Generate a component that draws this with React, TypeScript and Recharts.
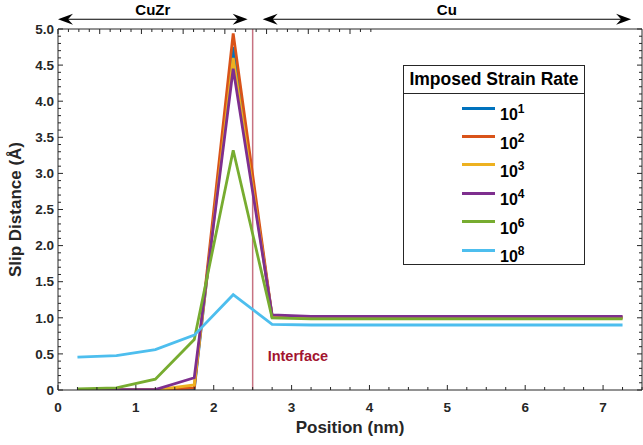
import { LineChart, Line, XAxis, YAxis, ReferenceLine, Legend } from "recharts";

// sample positions (nm), bins centred every 0.5 nm
const positions = [0.25, 0.75, 1.25, 1.75, 2.25, 2.75, 3.25, 3.75, 4.25, 4.75, 5.25, 5.75, 6.25, 6.75, 7.25];

// slip distance (Å) per imposed strain rate
const rate1 = [0, 0, 0, 0.01, 4.75, 1.01, 1.0, 1.0, 1.0, 1.0, 1.0, 1.0, 1.0, 1.0, 1.0];
const rate2 = [0, 0, 0, 0.03, 4.94, 1.02, 1.01, 1.01, 1.01, 1.01, 1.01, 1.01, 1.01, 1.01, 1.01];
const rate3 = [0, 0, 0, 0.07, 4.6, 1.02, 1.0, 1.0, 1.0, 1.0, 1.0, 1.0, 1.0, 1.0, 1.0];
const rate4 = [0, 0.005, 0.005, 0.17, 4.45, 1.04, 1.02, 1.02, 1.02, 1.02, 1.02, 1.02, 1.02, 1.02, 1.02];
const rate6 = [0.015, 0.03, 0.15, 0.7, 3.32, 1.0, 0.985, 0.985, 0.985, 0.985, 0.985, 0.985, 0.985, 0.985, 0.985];
const rate8 = [0.455, 0.475, 0.56, 0.76, 1.32, 0.91, 0.9, 0.9, 0.9, 0.9, 0.9, 0.9, 0.9, 0.9, 0.9];

const exponents = ["1", "2", "3", "4", "6", "8"];
const seriesValues = [rate1, rate2, rate3, rate4, rate6, rate8];
const colors = ["#0072BD", "#D95319", "#EDB120", "#7E2F8E", "#77AC30", "#4DBEEE"];

const xTicks = [
  0, 0.25, 0.5, 0.75, 1, 1.25, 1.5, 1.75, 2, 2.25, 2.5, 2.75, 3, 3.25, 3.5, 3.75,
  4, 4.25, 4.5, 4.75, 5, 5.25, 5.5, 5.75, 6, 6.25, 6.5, 6.75, 7, 7.25, 7.5,
];
const yTicks = Array.from({ length: 51 }, (_, i) => i / 10);

const interfaceX = 2.5;
const arrowY = 5.135;
const cuzrSpan = [0, 2.436];
const cuSpan = [2.628, 7.36];

const data = positions.map((p, i) => {
  const row: Record<string, number> = { pos: p };
  exponents.forEach((e, k) => (row["r" + e] = seriesValues[k][i]));
  return row;
});

const AXIS = "#262626";
const FONT = '"Liberation Sans", Arial, sans-serif';

const isMajorX = (v: number) => Math.abs(v - Math.round(v)) < 1e-6;
const isMajorY = (v: number) => Math.abs(v * 2 - Math.round(v * 2)) < 1e-6;

function BottomTick(props: any) {
  const { x, y, payload } = props;
  const major = isMajorX(payload.value);
  return (
    <g>
      <line x1={x} x2={x} y1={y} y2={y - (major ? 5 : 3)} stroke={AXIS} />
      {major && (
        <text x={x} y={y + 22} textAnchor="middle" fill={AXIS} fontSize={13.5} fontWeight="bold" fontFamily={FONT}>
          {payload.value}
        </text>
      )}
    </g>
  );
}

function TopTick(props: any) {
  const { x, y, payload } = props;
  const major = isMajorX(payload.value);
  return <line x1={x} x2={x} y1={y} y2={y + (major ? 5 : 3)} stroke={AXIS} />;
}

function LeftTick(props: any) {
  const { x, y, payload } = props;
  const major = isMajorY(payload.value);
  return (
    <g>
      <line x1={x} x2={x + (major ? 5 : 3)} y1={y} y2={y} stroke={AXIS} />
      {major && (
        <text x={x - 4} y={y} dy="0.355em" textAnchor="end" fill={AXIS} fontSize={13.5} fontWeight="bold" fontFamily={FONT}>
          {payload.value === 0 ? "0" : payload.value.toFixed(1)}
        </text>
      )}
    </g>
  );
}

function RightTick(props: any) {
  const { x, y, payload } = props;
  const major = isMajorY(payload.value);
  return <line x1={x} x2={x - (major ? 5 : 3)} y1={y} y2={y} stroke={AXIS} />;
}

function ArrowShape(props: any) {
  const { x1, y1, x2, y2, text } = props;
  const head = (tx: number, dir: number) =>
    `${tx},${y1} ${tx + dir * 15},${y1 - 5.5} ${tx + dir * 10},${y1} ${tx + dir * 15},${y1 + 5.5}`;
  return (
    <g>
      <line x1={x1 + 8} x2={x2 - 8} y1={y1} y2={y2} stroke="#000" strokeWidth={1} />
      <polygon points={head(x1, 1)} fill="#000" />
      <polygon points={head(x2, -1)} fill="#000" />
      <text x={(x1 + x2) / 2} y={y1 - 4} textAnchor="middle" fontSize={15} fontWeight="bold" fontFamily={FONT} fill="#000">
        {text}
      </text>
    </g>
  );
}

function InterfaceLabel(props: any) {
  const { viewBox } = props;
  return (
    <text x={viewBox.x + 15} y={viewBox.y + viewBox.height - 29} fill="#A2142F" fontSize={14.5} fontWeight="bold" fontFamily={FONT}>
      Interface
    </text>
  );
}

function LegendBox(props: any) {
  const { payload } = props;
  return (
    <div
      style={{
        width: 182,
        height: 200,
        boxSizing: "border-box",
        border: `1px solid ${AXIS}`,
        background: "#fff",
        fontFamily: FONT,
        fontWeight: "bold",
        color: "#000",
      }}
    >
      <div style={{ height: 27, lineHeight: "27px", borderBottom: `1px solid ${AXIS}`, textAlign: "center", fontSize: 17.5 }}>
        Imposed Strain Rate
      </div>
      <div>
        {(payload || []).map((item: any) => (
          <div key={item.value} style={{ height: 28.4, display: "flex", alignItems: "center" }}>
            <span style={{ display: "inline-block", marginLeft: 58, width: 33, height: 3, background: item.color }} />
            <span style={{ marginLeft: 5, fontSize: 16, lineHeight: "16px", position: "relative", top: 4 }}>
              10<sup style={{ fontSize: 12, verticalAlign: "7px" }}>{String(item.value).split("^")[1]}</sup>
            </span>
          </div>
        ))}
      </div>
    </div>
  );
}

export default function App() {
  return (
    <div style={{ position: "absolute", left: 0, top: 0, width: 643, height: 445, background: "#fff", fontFamily: FONT }}>
      <LineChart width={643} height={445} data={data} margin={{ top: 24, right: 0, bottom: 0, left: 0 }}>
        <XAxis
          dataKey="pos"
          type="number"
          domain={[0, 7.5]}
          allowDataOverflow
          ticks={xTicks}
          interval={0}
          height={55}
          tickSize={0}
          tickMargin={0}
          tickLine={false}
          axisLine={{ stroke: AXIS }}
          tick={(p: any) => <BottomTick {...p} />}
          label={{ value: "Position (nm)", position: "insideBottom", offset: 12, fill: AXIS, fontSize: 17, fontWeight: "bold", fontFamily: FONT }}
        />
        <XAxis
          xAxisId="top"
          orientation="top"
          type="number"
          domain={[0, 7.5]}
          allowDataOverflow
          ticks={xTicks}
          interval={0}
          height={5}
          tickSize={0}
          tickMargin={0}
          tickLine={false}
          axisLine={{ stroke: AXIS }}
          tick={(p: any) => <TopTick {...p} />}
        />
        <YAxis
          type="number"
          domain={[0, 5]}
          allowDataOverflow
          ticks={yTicks}
          interval={0}
          width={58}
          tickSize={0}
          tickMargin={0}
          tickLine={false}
          axisLine={{ stroke: AXIS }}
          tick={(p: any) => <LeftTick {...p} />}
          label={{
            value: "Slip Distance (Å)",
            angle: -90,
            position: "insideLeft",
            offset: 15,
            fill: AXIS,
            fontSize: 17,
            fontWeight: "bold",
            fontFamily: FONT,
            style: { textAnchor: "middle" },
          }}
        />
        <YAxis
          yAxisId="right"
          orientation="right"
          type="number"
          domain={[0, 5]}
          allowDataOverflow
          ticks={yTicks}
          interval={0}
          width={1}
          tickSize={0}
          tickMargin={0}
          tickLine={false}
          axisLine={{ stroke: AXIS }}
          tick={(p: any) => <RightTick {...p} />}
        />
        <ReferenceLine
          x={interfaceX}
          stroke="#A2142F"
          strokeOpacity={0.6}
          strokeWidth={1.5}
          label={<InterfaceLabel />}
        />
        <ReferenceLine
          segment={[{ x: cuzrSpan[0], y: arrowY }, { x: cuzrSpan[1], y: arrowY }]}
          ifOverflow="visible"
          shape={(p: any) => <ArrowShape {...p} text="CuZr" />}
        />
        <ReferenceLine
          segment={[{ x: cuSpan[0], y: arrowY }, { x: cuSpan[1], y: arrowY }]}
          ifOverflow="visible"
          shape={(p: any) => <ArrowShape {...p} text="Cu" />}
        />
        {exponents.map((e, k) => (
          <Line
            key={e}
            type="linear"
            dataKey={"r" + e}
            name={"10^" + e}
            stroke={colors[k]}
            strokeWidth={2.8}
            dot={false}
            isAnimationActive={false}
          />
        ))}
        <Legend
          layout="horizontal"
          verticalAlign="middle"
          align="center"
          content={(p: any) => <LegendBox {...p} />}
          wrapperStyle={{ left: 403, top: 65, width: 182, height: 200 }}
        />
      </LineChart>
    </div>
  );
}
